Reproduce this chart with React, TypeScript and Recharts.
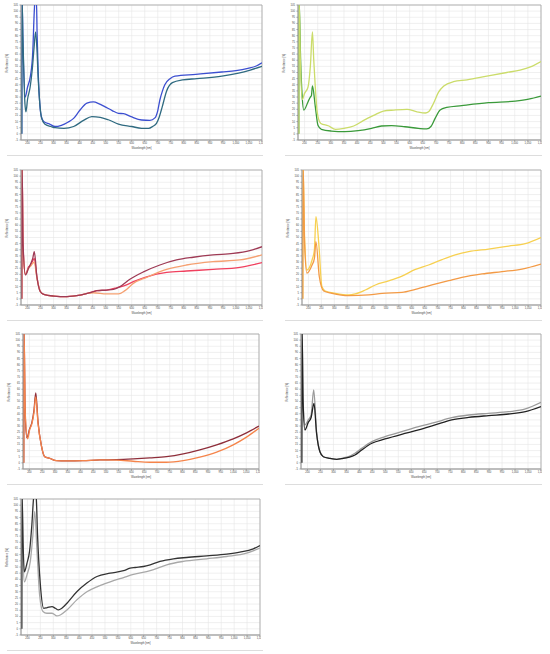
import React from 'react';
import { LineChart, Line, XAxis, YAxis, CartesianGrid, ReferenceArea } from 'recharts';

type P = [number, number];

// Wavelength ticks and reflectance ticks
const xTicks = [200, 250, 300, 350, 400, 450, 500, 550, 600, 650, 700, 750, 800, 850, 900, 950, 1000, 1050, 1100];
const yTicks = [-5, 0, 5, 10, 15, 20, 25, 30, 35, 40, 45, 50, 55, 60, 65, 70, 75, 80, 85, 90, 95, 100, 105];

// Panel 1 (blue)
const blueUpper: P[] = [[178,0],[179,110],[183,70],[191,30],[200,38],[211,47],[220,66],[226,100],[229,110],[234,110],[237,80],[241,50],[246,28],[252,15],[262,10],[285,8],[306,6],[330,7],[355,9.5],[377,12.6],[400,19],[428,25],[453,26],[475,24.5],[498,22],[525,19],[549,16.7],[568,16.5],[597,14],[638,11.3],[670,11],[689,13],[700,19],[708,27.6],[718,35],[727,40],[747,45],[766,47],[846,48.5],[946,50.4],[1000,51.5],[1046,53.4],[1080,55.5],[1100,58]];
const blueLower: P[] = [[178,0],[179,110],[182,80],[186,50],[190,25],[194,18],[200,28],[210,38],[218,52],[225,70],[231,83],[236,70],[241,45],[247,25],[254,13],[266,8],[290,6],[306,5],[340,4.5],[377,6],[415,11],[447,14],[479,13.5],[510,11.5],[549,8],[600,6],[638,4.5],[665,4.5],[680,6],[695,8.6],[706,14],[717,22],[734,35],[756,41.7],[795,44],[850,45],[946,47],[1010,49.5],[1055,52],[1100,55]];

// Panel 2 (green)
const greenUpper: P[] = [[178,0],[179,110],[184,60],[191,28],[200,33],[213,38],[222,55],[230,83],[235,60],[240,41],[247,20],[251,14],[262,8.5],[290,6.6],[318,3.7],[350,4.5],[387,6.4],[425,11],[463,15],[500,18.6],[540,19.4],[590,20],[628,18],[660,17],[672,18],[691,25],[710,34],[730,39],[767,42.5],[818,44],[894,47],[970,50],[1020,52],[1060,54.6],[1100,59]];
const greenLower: P[] = [[178,0],[179,110],[185,60],[191,30],[197,19.4],[213,26],[222,30],[226,31],[230,39],[241,22],[251,7],[264,3.7],[302,2.3],[353,1.8],[404,2.6],[455,4.5],[493,6.4],[531,6.7],[582,5.8],[633,4.5],[665,4],[681,6],[697,12.6],[716,19.4],[741,21.5],[798,23],[900,25.4],[1002,26.7],[1053,28.3],[1100,30.8]];

// Panel 3 (reds)
const redMaroon: P[] = [[178,0],[179,110],[183,45],[192,19.5],[204,25],[213,29],[220,33],[226,38.5],[236,18],[249,6],[262,3.7],[300,2.3],[351,1.8],[402,3],[440,5],[466,6.7],[504,7.2],[530,7.8],[555,10],[593,16],[645,22],[708,27.6],[772,31.7],[836,33.9],[912,35.8],[989,37],[1053,39.3],[1100,42.5]];
const redSalmon: P[] = [[178,0],[179,110],[183,40],[192,20],[204,25],[213,27],[220,29],[226,30],[236,17],[249,6],[262,3.7],[300,2.3],[351,1.8],[402,3],[430,4.5],[453,5],[504,4],[549,4],[574,6.7],[606,12.6],[657,17.5],[734,24],[810,27.6],[912,30.3],[1015,31.7],[1100,35.8]];
const redPink: P[] = [[178,0],[179,110],[183,42],[192,20],[204,26],[213,28],[220,31],[226,33],[236,18],[249,6],[262,3.7],[300,2.3],[351,1.8],[402,3],[440,5],[466,6.7],[504,7.2],[542,9],[575,11],[606,14],[657,18],[734,21.6],[810,22.7],[912,24],[1015,25.7],[1100,29.5]];

// Panel 4 (yellow / orange)
const yellowUpper: P[] = [[178,0],[179,110],[185,50],[194,23.5],[214,31.7],[223,40],[229,67],[240,45],[252,10],[265,6.4],[304,4.5],[356,3.2],[381,4],[420,7.2],[459,11.3],[510,14.6],[562,18.6],[614,24],[665,27.6],[717,32],[768,35.8],[820,38.5],[897,40.6],[975,43],[1039,45],[1100,50]];
const orangeLower: P[] = [[178,0],[179,110],[185,45],[194,21],[214,27.6],[223,33],[229,46.6],[242,18],[259,6.4],[291,4.5],[356,2.6],[433,3.2],[485,4.5],[562,5.3],[614,7.8],[678,11.3],[743,14.8],[794,17.5],[872,20.3],[949,22.2],[1026,24.3],[1100,28.4]];

// Panel 5 (maroon / orange)
const brickUpper: P[] = [[178,0],[179,110],[183,45],[190,20.5],[201,27.8],[210,33],[218,42.8],[225,57],[234,33],[247,14],[260,5],[280,3.7],[306,1.8],[345,1.6],[410,1.8],[476,2.4],[541,2.6],[607,3.2],[672,4],[737,5],[803,7.3],[868,10.6],[934,14.7],[999,19.6],[1051,24.5],[1100,30]];
const brickLower: P[] = [[178,0],[179,110],[184,40],[193,19.6],[201,27],[210,32],[218,41],[225,53.7],[234,32],[247,14],[260,5],[280,3.7],[306,1.8],[345,1.6],[410,1.8],[476,2.4],[541,2.3],[607,1.3],[672,0.5],[737,0.5],[803,1.8],[868,4.6],[934,8.7],[999,14.7],[1051,21],[1100,28.3]];

// Panel 6 (grey / black)
const greyUpper: P[] = [[178,0],[179,110],[183,52],[190,31],[203,35],[214,39],[224,59.4],[235,25.4],[248,9],[261,5],[287,3.7],[313,2.9],[332,3.7],[358,5],[383,7.8],[409,11.8],[448,17.3],[499,21.4],[563,25.4],[628,29.5],[692,33],[756,36.8],[821,39],[898,40.4],[975,41.7],[1040,43.9],[1100,49.3]];
const blackLower: P[] = [[178,0],[179,110],[183,50],[190,26.8],[203,33],[214,37],[225,48.5],[235,24],[248,9],[261,5],[287,3.7],[313,2.9],[332,3.5],[358,4.5],[383,6.4],[409,10.5],[448,16],[499,19.5],[563,23.3],[628,26.8],[692,30.9],[756,35],[821,37],[898,38.5],[975,39.8],[1040,41.7],[1100,45.8]];

// Panel 7 (black / grey)
const darkUpper: P[] = [[178,0],[179,110],[183,70],[188,46],[198,53],[208,62.6],[217,84],[224,106],[230,110],[234,106],[239,76],[250,35.5],[263,16.6],[275,17],[295,18],[308,16.6],[320,15.3],[333,16.6],[353,20.7],[391,30],[430,37],[469,42.3],[520,45],[572,47],[597,49],[617,49.6],[649,50.4],[675,51.8],[713,54.5],[765,56.6],[816,57.7],[894,59],[971,60.4],[1022,62],[1074,64.7],[1100,67.4]];
const lightLower: P[] = [[178,0],[179,110],[183,60],[188,38],[198,43.6],[211,54.5],[221,76],[228,95],[237,62.6],[247,27.4],[260,14],[275,12.6],[295,12.6],[314,10.4],[327,11.2],[353,15.3],[391,23.4],[430,30],[469,34],[520,38],[572,41.5],[610,44],[675,47],[739,51.8],[803,54.5],[894,56.6],[971,58.5],[1048,61.2],[1100,65.3]];

const toRows = (pts: P[]) => pts.map(([x, y]) => ({ x, y }));

type SeriesDef = { data: P[]; color: string };
type PanelDef = { left: number; right: number; top: number; bottom: number; series: SeriesDef[]; sepX0: number; sepX1: number };

const panels: PanelDef[] = [
  { left: 21, right: 262, top: 5, bottom: 140, sepX0: 7, sepX1: 263, series: [
    { data: blueUpper, color: '#3c4fd0' }, { data: blueLower, color: '#2f6a80' } ] },
  { left: 298, right: 541, top: 5, bottom: 140, sepX0: 285, sepX1: 542, series: [
    { data: greenLower, color: '#3a9a3a' }, { data: greenUpper, color: '#cbdc6a' } ] },
  { left: 21, right: 262, top: 170, bottom: 305, sepX0: 7, sepX1: 263, series: [
    { data: redPink, color: '#f0405e' }, { data: redSalmon, color: '#f5a071' }, { data: redMaroon, color: '#9e3a55' } ] },
  { left: 302, right: 541, top: 170, bottom: 305, sepX0: 285, sepX1: 542, series: [
    { data: yellowUpper, color: '#f7d050' }, { data: orangeLower, color: '#f39a45' } ] },
  { left: 23, right: 259, top: 334, bottom: 469, sepX0: 7, sepX1: 263, series: [
    { data: brickUpper, color: '#8e2e3a' }, { data: brickLower, color: '#f5844a' } ] },
  { left: 301, right: 541, top: 334, bottom: 469, sepX0: 285, sepX1: 542, series: [
    { data: greyUpper, color: '#9a9a9a' }, { data: blackLower, color: '#222222' } ] },
  { left: 21, right: 260, top: 499, bottom: 635, sepX0: 7, sepX1: 263, series: [
    { data: lightLower, color: '#a8a8a8' }, { data: darkUpper, color: '#333333' } ] },
];

const FS = 2.7;
const FONT = 'Arial, Liberation Sans, sans-serif';
const fmtX = (v: number) => v.toLocaleString('en-US');

function Panel({ p }: { p: PanelDef }) {
  const chartLeft = p.left - 21;
  const width = p.right - chartLeft + 1;
  const height = p.bottom - p.top + 5 + 14;
  return (
    <div style={{ position: 'absolute', left: chartLeft, top: p.top - 5 }}>
      <LineChart width={width} height={height} margin={{ top: 5, right: 1, left: 0, bottom: 0 }}>
        <CartesianGrid stroke="#e6e6e6" strokeWidth={0.6} verticalValues={xTicks} horizontalValues={yTicks} />
        <XAxis
          type="number"
          dataKey="x"
          domain={[175, 1100]}
          allowDataOverflow
          ticks={xTicks}
          interval={0}
          tickFormatter={fmtX}
          height={14}
          tick={{ fontSize: FS, fill: '#444', fontFamily: FONT }}
          tickSize={1.5}
          tickMargin={1}
          stroke="#999"
          axisLine={{ stroke: '#999', strokeWidth: 0.8 }}
          label={{ value: 'Wavelength [nm]', position: 'insideBottom', offset: 5, fontSize: FS, fill: '#444', fontFamily: FONT }}
        />
        <YAxis
          type="number"
          domain={[-5, 105]}
          allowDataOverflow
          ticks={yTicks}
          interval={0}
          width={21}
          tick={{ fontSize: FS, fill: '#444', fontFamily: FONT }}
          tickSize={1.5}
          tickMargin={1.5}
          stroke="#999"
          axisLine={{ stroke: '#999', strokeWidth: 0.8 }}
          label={{ value: 'Reflectance [%]', angle: -90, position: 'insideLeft', offset: 7, fontSize: FS, fill: '#444', fontFamily: FONT }}
        />
        <ReferenceArea x1={175} x2={1100} y1={-5} y2={105} fill="none" stroke="#aaa" strokeWidth={0.9} ifOverflow="visible" />
        {p.series.map((s, i) => (
          <Line
            key={i}
            data={toRows(s.data)}
            dataKey="y"
            type="monotone"
            stroke={s.color}
            strokeWidth={1.3}
            dot={false}
            activeDot={false}
            isAnimationActive={false}
          />
        ))}
      </LineChart>
      <div style={{ position: 'absolute', left: p.sepX0 - chartLeft, top: p.bottom - p.top + 5 + 15, width: p.sepX1 - p.sepX0, height: 1, background: '#dddddd' }} />
    </div>
  );
}

export default function App() {
  return (
    <div style={{ position: 'absolute', left: 0, top: 0, width: 550, height: 654, background: '#fff', overflow: 'hidden' }}>
      {panels.map((p, i) => (
        <Panel key={i} p={p} />
      ))}
    </div>
  );
}
